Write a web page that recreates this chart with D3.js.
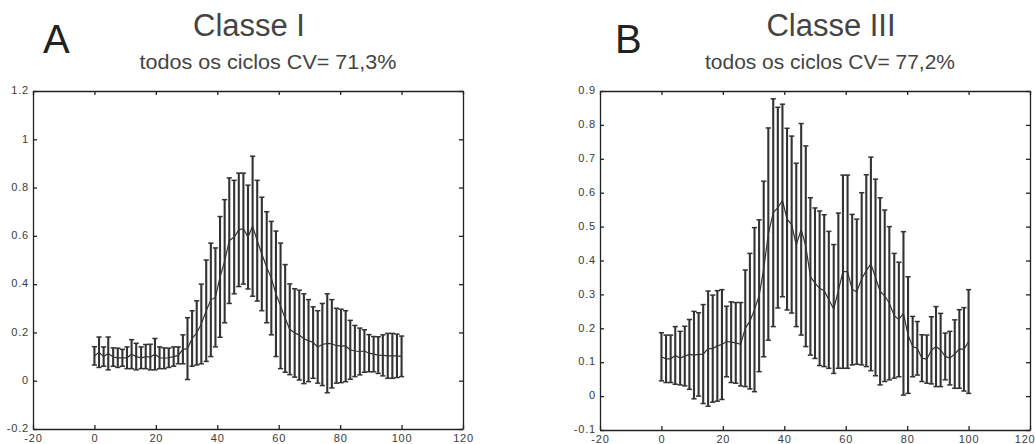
<!DOCTYPE html>
<html>
<head>
<meta charset="utf-8">
<script src="https://cdn.jsdelivr.net/npm/d3@7"></script>
<style>
  body { margin: 0; background: #fff; }
  svg { display: block; font-family: "Liberation Sans", Arial, sans-serif; }
  .axis text { font-size: 11px; fill: #3a3a3a; letter-spacing: 0.8px; }
  .axis path, .axis line { stroke: #222; stroke-width: 1.3; }
</style>
</head>
<body>
<script>
// % of the cycle, one sample every ~1.5 %
const cyclePct = [0, 1.5, 3, 4.5, 6.1, 7.6, 9.1, 10.6, 12.1, 13.6, 15.2, 16.7, 18.2, 19.7, 21.2, 22.7,
  24.2, 25.8, 27.3, 28.8, 30.3, 31.8, 33.3, 34.8, 36.4, 37.9, 39.4, 40.9, 42.4, 43.9, 45.5, 47,
  48.5, 50, 51.5, 53, 54.5, 56.1, 57.6, 59.1, 60.6, 62.1, 63.6, 65.2, 66.7, 68.2, 69.7, 71.2,
  72.7, 74.2, 75.8, 77.3, 78.8, 80.3, 81.8, 83.3, 84.8, 86.4, 87.9, 89.4, 90.9, 92.4, 93.9,
  95.5, 97, 98.5, 100];

// Classe I : mean and standard deviation
const classIMean = [0.103, 0.118, 0.1, 0.113, 0.098, 0.095, 0.095, 0.095, 0.11, 0.1, 0.095, 0.1,
  0.098, 0.11, 0.095, 0.093, 0.095, 0.1, 0.105, 0.13, 0.133, 0.175, 0.198, 0.235, 0.29, 0.335,
  0.345, 0.43, 0.495, 0.58, 0.595, 0.625, 0.63, 0.595, 0.64, 0.58, 0.525, 0.47, 0.425, 0.36,
  0.31, 0.258, 0.213, 0.198, 0.189, 0.174, 0.166, 0.158, 0.14, 0.15, 0.155, 0.153, 0.145,
  0.144, 0.143, 0.128, 0.123, 0.121, 0.123, 0.114, 0.11, 0.106, 0.105, 0.103, 0.103, 0.103, 0.101];
const classISd = [0.038, 0.063, 0.04, 0.068, 0.038, 0.04, 0.035, 0.045, 0.06, 0.055, 0.045, 0.05,
  0.053, 0.065, 0.045, 0.043, 0.04, 0.04, 0.035, 0.06, 0.128, 0.115, 0.133, 0.165, 0.21, 0.235,
  0.205, 0.25, 0.255, 0.26, 0.235, 0.235, 0.23, 0.215, 0.29, 0.25, 0.235, 0.23, 0.235, 0.26,
  0.26, 0.223, 0.188, 0.183, 0.186, 0.186, 0.17, 0.148, 0.15, 0.17, 0.205, 0.183, 0.155,
  0.152, 0.147, 0.122, 0.106, 0.097, 0.088, 0.077, 0.073, 0.076, 0.085, 0.093, 0.093, 0.09, 0.084];

// Classe III : mean and standard deviation
const classIIIMean = [0.116, 0.11, 0.11, 0.12, 0.112, 0.118, 0.123, 0.121, 0.123, 0.124, 0.14, 0.14,
  0.148, 0.152, 0.161, 0.159, 0.157, 0.153, 0.2, 0.221, 0.255, 0.296, 0.375, 0.478, 0.541, 0.556,
  0.577, 0.522, 0.506, 0.446, 0.492, 0.442, 0.353, 0.333, 0.318, 0.311, 0.284, 0.257, 0.311,
  0.367, 0.367, 0.314, 0.308, 0.346, 0.37, 0.39, 0.35, 0.309, 0.296, 0.274, 0.237, 0.226,
  0.244, 0.18, 0.146, 0.141, 0.112, 0.109, 0.135, 0.146, 0.136, 0.117, 0.112, 0.124, 0.139, 0.138, 0.161];
const classIIISd = [0.071, 0.07, 0.07, 0.085, 0.079, 0.088, 0.103, 0.129, 0.123, 0.146, 0.17, 0.158,
  0.163, 0.162, 0.104, 0.119, 0.119, 0.123, 0.172, 0.2, 0.242, 0.224, 0.259, 0.313, 0.336, 0.296,
  0.284, 0.268, 0.261, 0.241, 0.312, 0.296, 0.232, 0.222, 0.228, 0.224, 0.202, 0.19, 0.229,
  0.285, 0.285, 0.222, 0.214, 0.254, 0.283, 0.315, 0.29, 0.276, 0.253, 0.226, 0.184, 0.169,
  0.241, 0.172, 0.089, 0.079, 0.069, 0.071, 0.099, 0.118, 0.108, 0.069, 0.079, 0.101, 0.116, 0.123, 0.153];

const xTicks = [-20, 0, 20, 40, 60, 80, 100, 120];
const yTicksI = [-0.2, 0, 0.2, 0.4, 0.6, 0.8, 1, 1.2];
const yTicksIII = [-0.1, 0, 0.1, 0.2, 0.3, 0.4, 0.5, 0.6, 0.7, 0.8, 0.9];

const width = 1035;
const height = 444;
const ink = '#333';

const svg = d3.select('body').append('svg')
  .attr('width', width)
  .attr('height', height);

function drawPanel(p) {
  const x = d3.scaleLinear().domain([-20, 120]).range([p.left, p.right]);
  const y = d3.scaleLinear().domain(p.yDomain).range([p.bottom, p.top]);
  const fmt = d => String(+d.toFixed(1));

  // axes with inward ticks on all four sides (box)
  const xAxisG = svg.append('g').attr('class', 'axis')
    .attr('transform', `translate(0,${p.bottom})`)
    .call(d3.axisBottom(x).tickValues(xTicks).tickSizeInner(-4).tickSizeOuter(0).tickPadding(5).tickFormat(fmt));
  // keep the last label inside the page when the box touches the right edge
  if (p.right > width - 12) {
    xAxisG.selectAll('.tick:last-of-type text').attr('text-anchor', 'end').attr('dx', '5px');
  }
  svg.append('g').attr('class', 'axis')
    .attr('transform', `translate(0,${p.top})`)
    .call(d3.axisTop(x).tickValues(xTicks).tickSizeInner(-4).tickSizeOuter(0).tickFormat(''));
  svg.append('g').attr('class', 'axis')
    .attr('transform', `translate(${p.left},0)`)
    .call(d3.axisLeft(y).tickValues(p.yTicks).tickSizeInner(-4).tickSizeOuter(0).tickPadding(4).tickFormat(fmt))
    .selectAll('text').attr('dy', '0.25em');
  svg.append('g').attr('class', 'axis')
    .attr('transform', `translate(${p.right},0)`)
    .call(d3.axisRight(y).tickValues(p.yTicks).tickSizeInner(-4).tickSizeOuter(0).tickFormat(''));

  const pts = cyclePct.map((c, i) => ({ x: c, m: p.mean[i], s: p.sd[i] }));
  const g = svg.append('g');

  // mean line
  g.append('path')
    .datum(pts)
    .attr('fill', 'none')
    .attr('stroke', ink)
    .attr('stroke-width', 1.2)
    .attr('d', d3.line().x(d => x(d.x)).y(d => y(d.m)));

  // error bars
  const capW = 2.6;
  const bars = g.selectAll('g.bar').data(pts).enter().append('g').attr('class', 'bar')
    .attr('stroke', ink).attr('stroke-width', 2.1);
  bars.append('line')
    .attr('x1', d => x(d.x)).attr('x2', d => x(d.x))
    .attr('y1', d => y(d.m - d.s)).attr('y2', d => y(d.m + d.s));
  bars.append('line')
    .attr('x1', d => x(d.x) - capW).attr('x2', d => x(d.x) + capW)
    .attr('y1', d => y(d.m + d.s)).attr('y2', d => y(d.m + d.s))
    .attr('stroke-width', 1.5);
  bars.append('line')
    .attr('x1', d => x(d.x) - capW).attr('x2', d => x(d.x) + capW)
    .attr('y1', d => y(d.m - d.s)).attr('y2', d => y(d.m - d.s))
    .attr('stroke-width', 1.5);

  // panel letter and titles
  svg.append('text')
    .attr('x', p.letterX).attr('y', 53)
    .attr('font-size', '40px').attr('fill', '#222')
    .text(p.letter);
  svg.append('text')
    .attr('x', p.titleX).attr('y', 36)
    .attr('text-anchor', 'middle')
    .attr('font-size', '31px').attr('fill', '#444')
    .text(p.title);
  svg.append('text')
    .attr('x', p.subX).attr('y', 69)
    .attr('text-anchor', 'middle')
    .attr('font-size', '21px').attr('fill', '#444')
    .attr('textLength', p.subW).attr('lengthAdjust', 'spacingAndGlyphs')
    .text(p.subtitle);
}

drawPanel({
  left: 33, right: 463, top: 91, bottom: 429,
  yDomain: [-0.2, 1.2], yTicks: yTicksI,
  mean: classIMean, sd: classISd,
  letter: 'A', letterX: 43,
  title: 'Classe I', titleX: 249,
  subtitle: 'todos os ciclos  CV= 71,3%', subX: 268, subW: 257
});

drawPanel({
  left: 600, right: 1030, top: 91, bottom: 430,
  yDomain: [-0.1, 0.9], yTicks: yTicksIII,
  mean: classIIIMean, sd: classIIISd,
  letter: 'B', letterX: 615,
  title: 'Classe III', titleX: 831,
  subtitle: 'todos os ciclos  CV= 77,2%', subX: 830, subW: 250
});
</script>
</body>
</html>
